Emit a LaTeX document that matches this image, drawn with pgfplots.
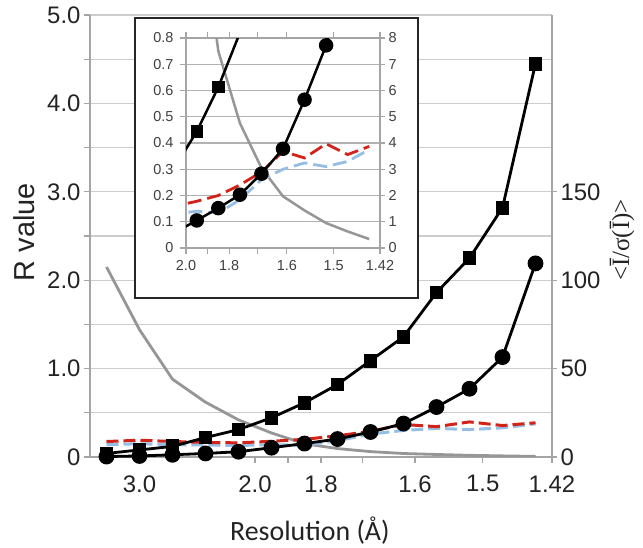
\documentclass[border=0pt]{standalone}
\usepackage{fontspec}
\setmainfont{Liberation Sans}
\newfontfamily\calib{Carlito}
\newfontfamily\seriff{Liberation Serif}
\usepackage{pgfplots}
\pgfplotsset{compat=1.18}
\usepackage{pgfplotstable}

\definecolor{axgray}{RGB}{165,165,165}
\definecolor{gridgray}{RGB}{205,205,205}
\definecolor{curvegray}{RGB}{150,150,150}
\definecolor{rred}{RGB}{210,35,25}
\definecolor{lblue}{RGB}{150,190,228}
\definecolor{txt}{RGB}{35,35,35}
\definecolor{itxt}{RGB}{64,64,64}

\pgfplotstableread{
x circ sq red blue isig
0.5 0.005 0.04 0.175 0.140 107.5
1.5 0.012 0.08 0.190 0.150 72
2.5 0.025 0.12 0.175 0.140 44
3.5 0.040 0.22 0.165 0.135 31
4.5 0.060 0.31 0.160 0.130 21
5.5 0.105 0.444 0.178 0.140 13.6
6.5 0.152 0.613 0.200 0.133 7.5
7.5 0.203 0.82 0.240 0.184 4.76
8.5 0.283 1.09 0.290 0.260 3.05
9.5 0.378 1.36 0.368 0.300 1.97
10.5 0.565 1.86 0.343 0.324 1.43
11.5 0.772 2.25 0.397 0.310 0.95
12.5 1.13 2.82 0.356 0.330 0.63
13.5 2.19 4.45 0.387 0.375 0.34
}\data

\pgfplotsset{
  mainbox/.style={at={(90bp,91bp)}, anchor=south west, scale only axis,
    width=462bp, height=442bp, xmin=0, xmax=14},
  insetbox/.style={at={(186bp,300bp)}, anchor=south west, scale only axis,
    width=194bp, height=210bp, xmin=5, xmax=14},
}

\begin{document}
\begin{tikzpicture}
\useasboundingbox (0,0) rectangle (643bp,548bp);

% ---------- main: left axis with grid ----------
\begin{axis}[mainbox, ymin=0, ymax=5,
  axis x line*=bottom, axis y line*=left,
  axis line style={-, draw=axgray, line width=1.3bp},
  ytick={0,0.5,...,5}, yticklabels={0,,1.0,,2.0,,3.0,,4.0,,5.0},
  ymajorgrids, grid style={draw=gridgray, line width=1.2bp},
  xtick={1.5,5,6,7,8.25,9.85,11.9,14},
  xticklabels={3.0,2.0,,1.8,,1.6,1.5,1.42},
  tick align=outside, major tick length=6bp,
  tick style={draw=axgray, line width=1.3bp},
  ticklabel style={font=\fontsize{24}{24}\selectfont, text=txt},
  xticklabel style={yshift=-9bp},
  ylabel={R value},
  ylabel style={at={(axis description cs:-0.143,0.509)}, anchor=center,
    font=\fontsize{29}{29}\selectfont, text=txt},
  xlabel={\calib Resolution (Å)},
  xlabel style={at={(axis description cs:0.476,-0.190)}, anchor=base,
    font=\fontsize{28}{28}\selectfont, text=txt},
]
\end{axis}

% ---------- main: right axis, I/sigma ----------
\begin{axis}[mainbox, ymin=0, ymax=250,
  axis x line=none, axis y line*=right,
  axis line style={-, draw=axgray, line width=1.3bp},
  ytick={0,50,100,150}, yticklabels={0,50,100,150},
  tick align=outside, major tick length=5bp,
  tick style={draw=axgray, line width=1.3bp},
  ticklabel style={font=\fontsize{24}{24}\selectfont, text=txt},
  ylabel={\seriff <Ī/σ(Ī)>},
  ylabel style={at={(axis description cs:1.152,0.491)}, anchor=center, rotate=0,
    font=\fontsize{25}{25}\selectfont, text=txt},
]
\addplot[curvegray, line width=2.8bp] table[x=x, y=isig] {\data};
\end{axis}

% ---------- main: data on left scale ----------
\begin{axis}[mainbox, ymin=0, ymax=5, axis lines=none, clip=false]
\addplot[lblue, line width=3bp, dash pattern=on 12bp off 5bp] table[x=x, y=blue] {\data};
\addplot[rred, line width=3bp, dash pattern=on 12bp off 5bp] table[x=x, y=red] {\data};
\addplot[black, line width=2.8bp, mark=*, mark size=6.5bp,
  mark options={solid, fill=black}] table[x=x, y=circ] {\data};
\addplot[black, line width=2.8bp, mark=square*, mark size=5.5bp,
  mark options={solid, fill=black}] table[x=x, y=sq] {\data};
\end{axis}

% ---------- inset frame ----------
\draw[fill=white, draw=black!85, line width=1.8bp] (135bp,250bp) rectangle (418bp,530bp);

% ---------- inset: left axis with grid ----------
\begin{axis}[insetbox, ymin=0, ymax=0.8,
  axis line style={-, draw=axgray, line width=1.2bp},
  ytick={0,0.1,...,0.8}, yticklabels={0,0.1,0.2,0.3,0.4,0.5,0.6,0.7,0.8},
  ytick pos=left, xtick pos=both,
  ymajorgrids, grid style={draw=axgray!85, line width=1.1bp},
  xtick={5,6,7,8.33,9.68,11.85,14},
  xticklabels={2.0,,1.8,,1.6,1.5,1.42},
  tick align=outside, major tick length=6bp,
  tick style={draw=axgray, line width=1.2bp},
  ticklabel style={font=\fontsize{14.5}{14.5}\selectfont, text=itxt},
  yticklabel style={xshift=-3bp},
  xticklabel style={yshift=-3bp},
]
\end{axis}

% ---------- inset: right axis ----------
\begin{axis}[insetbox, ymin=0, ymax=8,
  axis x line=none, axis y line*=right,
  axis line style={-, draw=axgray, line width=1.2bp},
  ytick={0,1,...,8}, yticklabels={0,1,2,3,4,5,6,7,8},
  tick align=outside, major tick length=5bp,
  tick style={draw=axgray, line width=1.2bp},
  ticklabel style={font=\fontsize{14.5}{14.5}\selectfont, text=itxt},
]
\addplot[curvegray, line width=2.5bp] table[x=x, y=isig] {\data};
\end{axis}

% ---------- inset: data ----------
\begin{axis}[insetbox, ymin=0, ymax=0.8, axis lines=none]
\addplot[lblue, line width=2.8bp, dash pattern=on 14bp off 6bp] table[x=x, y=blue] {\data};
\addplot[rred, line width=2.8bp, dash pattern=on 14bp off 6bp] table[x=x, y=red] {\data};
\addplot[black, line width=2.5bp, mark=*, mark size=6bp,
  mark options={solid, fill=black}] table[x=x, y=circ] {\data};
\addplot[black, line width=2.5bp, mark=square*, mark size=5bp,
  mark options={solid, fill=black}] table[x=x, y=sq] {\data};
\end{axis}
\end{tikzpicture}
\end{document}
